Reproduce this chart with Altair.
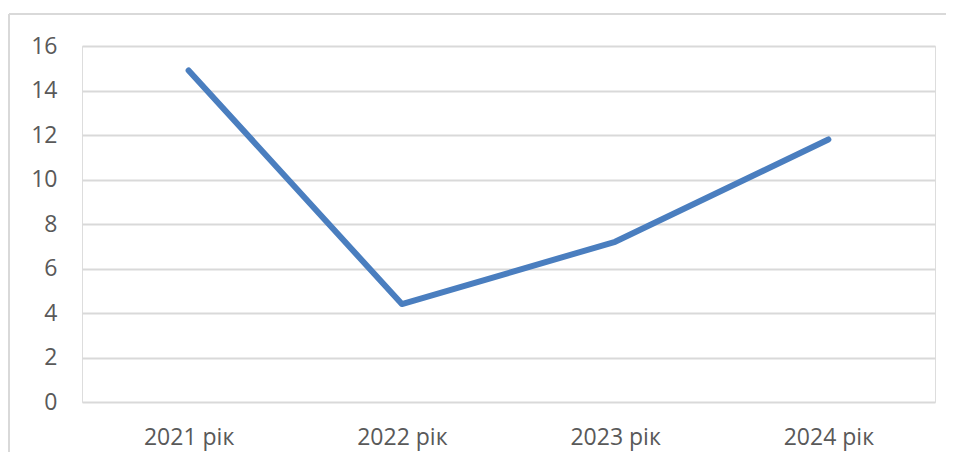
import altair as alt
import pandas as pd

years = ["2021 рік", "2022 рік", "2023 рік", "2024 рік"]
values = [14.9, 4.4, 7.2, 11.8]

df = pd.DataFrame({"year": years, "value": values})

W, H = 853, 356
PAD_L, PAD_T = 74, 38

base = alt.Chart(df)

line = base.mark_line(color="#4A7EBF", strokeWidth=6, strokeCap="round", strokeJoin="round").encode(
    x=alt.X("year:N", sort=years, title=None,
            scale=alt.Scale(paddingInner=0, paddingOuter=0.5),
            axis=alt.Axis(labelAngle=0, ticks=False, domain=False, grid=False,
                          labelPadding=24, labelFontSize=23, labelColor="#595959",
                          labelFont="Open Sans")),
    y=alt.Y("value:Q", title=None,
            scale=alt.Scale(domain=[0, 16], nice=False),
            axis=alt.Axis(values=[0, 2, 4, 6, 8, 10, 12, 14, 16], ticks=False, domain=False,
                          gridColor="#d9d9d9", gridWidth=2, labelPadding=25,
                          labelFontSize=23, labelColor="#595959", labelFont="Open Sans")),
)

border_left = base.mark_rule(color="#d9d9d9", strokeWidth=2).encode(
    x=alt.value(-73), y=alt.value(-32), y2=alt.value(H + 200)
)
border_top = base.mark_rule(color="#d9d9d9", strokeWidth=2).encode(
    x=alt.value(-73), x2=alt.value(W + 200), y=alt.value(-32)
)

chart = alt.layer(border_left, border_top, line).properties(
    width=W, height=H,
    autosize=alt.AutoSizeParams(type="none"),
    padding={"left": PAD_L, "top": PAD_T, "right": 11, "bottom": 50},
).configure_view(stroke=None).configure(background="white")

chart.save("out.html", embed_options={"renderer": "svg", "actions": False})
